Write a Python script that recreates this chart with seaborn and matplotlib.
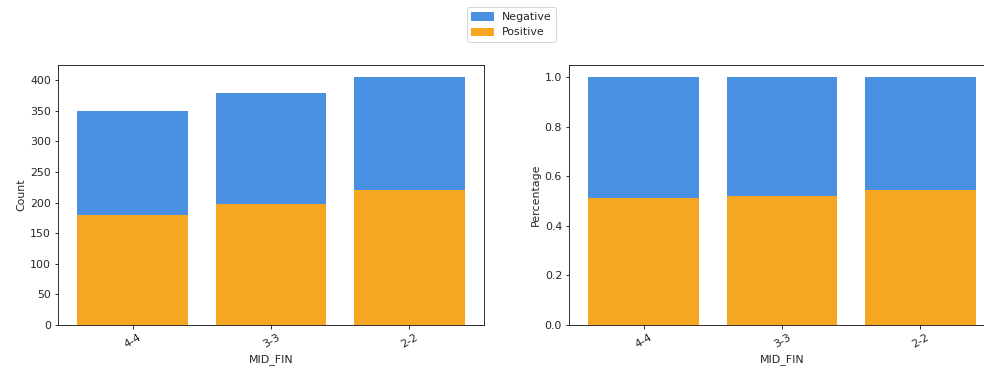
import matplotlib
matplotlib.use("Agg")
import matplotlib.pyplot as plt
import matplotlib.patches as mpatches
import pandas as pd
import seaborn as sns

categories = ["4-4", "3-3", "2-2"]
positive = [180, 198, 221]
negative = [170, 181, 184]

blue = "#4a90e2"
orange = "#f5a623"

plt.rcParams["font.size"] = 11
plt.rcParams["text.color"] = "#262626"
plt.rcParams["xtick.labelcolor"] = "#262626"
plt.rcParams["ytick.labelcolor"] = "#262626"
plt.rcParams["axes.labelcolor"] = "#262626"

df = pd.DataFrame({"MID_FIN": categories, "Positive": positive, "Negative": negative})
df["Total"] = df["Positive"] + df["Negative"]
df["Pos_pct"] = df["Positive"] / df["Total"]
df["Tot_pct"] = df["Total"] / df["Total"]

fig = plt.figure(figsize=(984 / 72, 375 / 72), dpi=72)
ax1 = fig.add_axes([0.0589, 0.1333, 0.4329, 0.6933])
ax2 = fig.add_axes([0.5783, 0.1333, 0.4329, 0.6933])

# count panel: total (negative on top) then positive at the bottom
sns.barplot(data=df, x="MID_FIN", y="Total", color=blue, saturation=1, linewidth=0, ax=ax1)
sns.barplot(data=df, x="MID_FIN", y="Positive", color=orange, saturation=1, linewidth=0, ax=ax1)
ax1.set_ylabel("Count")

# share panel
sns.barplot(data=df, x="MID_FIN", y="Tot_pct", color=blue, saturation=1, linewidth=0, ax=ax2)
sns.barplot(data=df, x="MID_FIN", y="Pos_pct", color=orange, saturation=1, linewidth=0, ax=ax2)
ax2.set_ylabel("Percentage")
ax2.set_ylim(0, 1.05)
ax2.set_yticks([0.0, 0.2, 0.4, 0.6, 0.8, 1.0])

ax1.set_ylim(0, 425)
ax1.set_yticks(range(0, 401, 50))

for ax in (ax1, ax2):
    ax.set_xlim(-0.54, 2.54)
    ax.set_xlabel("MID_FIN")
    ax.tick_params(axis="x", labelrotation=30)
    for sp in ax.spines.values():
        sp.set_visible(True)

handles = [mpatches.Patch(color=blue, label="Negative"),
           mpatches.Patch(color=orange, label="Positive")]
fig.legend(handles=handles, loc="upper center", bbox_to_anchor=(0.52, 0.995))

fig.savefig("out.png", dpi=72)
